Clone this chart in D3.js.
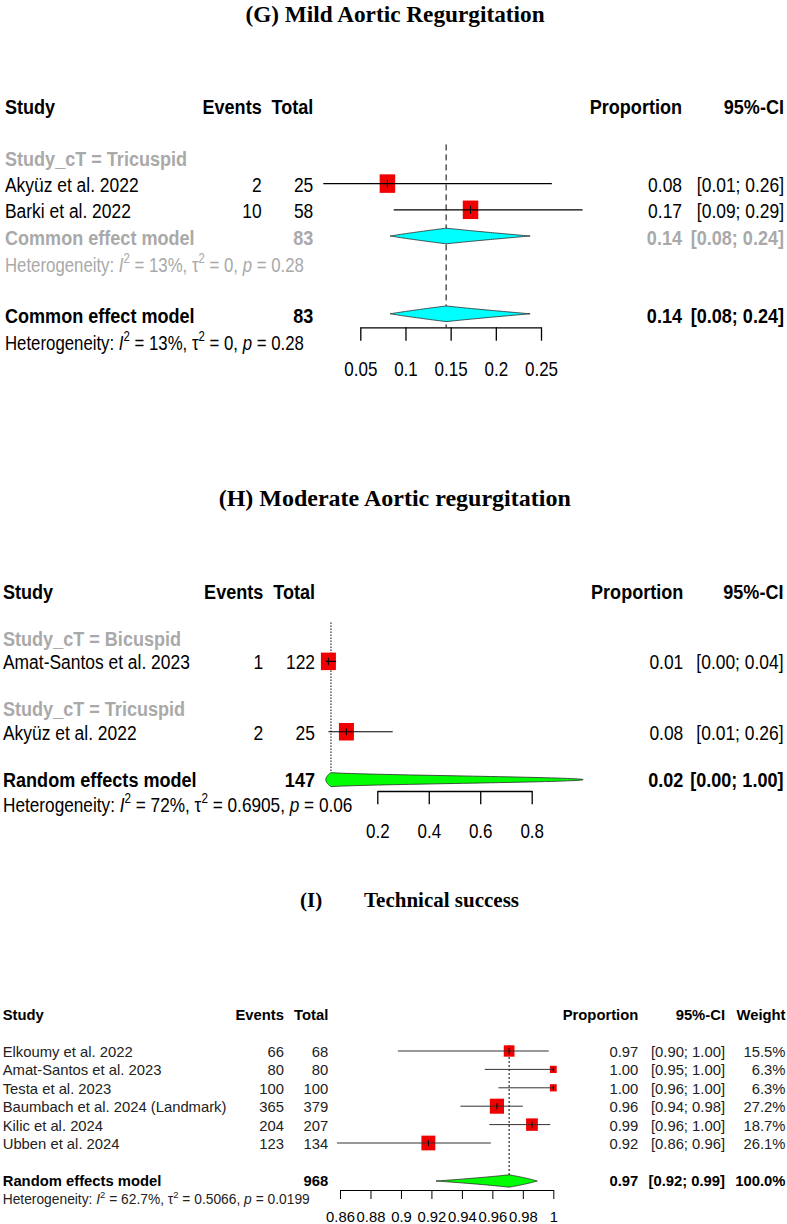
<!DOCTYPE html>
<html><head><meta charset="utf-8">
<script src="https://cdn.jsdelivr.net/npm/d3@7"></script>
<style>body{margin:0;background:#fff} svg{display:block}</style>
</head><body><svg id="c" width="787" height="1224"></svg>
<script>
// ---------- Panel G: Mild Aortic Regurgitation ----------
const gTitle = "(G) Mild Aortic Regurgitation";
const gGroup = "Study_cT = Tricuspid";
const gStudies = ["Akyüz et al. 2022", "Barki et al. 2022"];
const gEvents = [2, 10];
const gTotals = [25, 58];
const gProp = [0.08, 0.172];
const gLower = [0.009, 0.087];
const gUpper = [0.262, 0.296];
const gPropText = ["0.08", "0.17"];
const gCIText = ["[0.01; 0.26]", "[0.09; 0.29]"];
const gPooled = [0.145, 0.083, 0.238];          // estimate, lower, upper
const gPooledText = ["83", "0.14", "[0.08; 0.24]"];
const gHet = ["13%", "0", "0.28"];
const gTicks = [0.05, 0.1, 0.15, 0.2, 0.25];
const gTickLabels = ["0.05", "0.1", "0.15", "0.2", "0.25"];

// ---------- Panel H: Moderate Aortic regurgitation ----------
const hTitle = "(H) Moderate Aortic regurgitation";
const hGroups = ["Study_cT = Bicuspid", "Study_cT = Tricuspid"];
const hStudies = ["Amat-Santos et al. 2023", "Akyüz et al. 2022"];
const hEvents = [1, 2];
const hTotals = [122, 25];
const hProp = [0.01, 0.08];
const hLower = [0.0, 0.01];
const hUpper = [0.04, 0.26];
const hPropText = ["0.01", "0.08"];
const hCIText = ["[0.00; 0.04]", "[0.01; 0.26]"];
const hPooled = [0.02, 0.0, 1.0];
const hPooledText = ["147", "0.02", "[0.00; 1.00]"];
const hHet = ["72%", "0.6905", "0.06"];
const hTicks = [0.2, 0.4, 0.6, 0.8];
const hTickLabels = ["0.2", "0.4", "0.6", "0.8"];

// ---------- Panel I: Technical success ----------
const iTitleParts = ["(I)", "Technical success"];
const iStudies = ["Elkoumy et al. 2022", "Amat-Santos et al. 2023", "Testa et al. 2023",
  "Baumbach et al. 2024 (Landmark)", "Kilic et al. 2024", "Ubben et al. 2024"];
const iEvents = [66, 80, 100, 365, 204, 123];
const iTotals = [68, 80, 100, 379, 207, 134];
const iProp = [0.971, 1.0, 1.0, 0.963, 0.986, 0.918];
const iLower = [0.898, 0.955, 0.964, 0.939, 0.958, 0.858];
const iUpper = [0.997, 1.0, 1.0, 0.980, 0.998, 0.959];
const iWeight = [15.5, 6.3, 6.3, 27.2, 18.7, 26.1];
const iPropText = ["0.97", "1.00", "1.00", "0.96", "0.99", "0.92"];
const iCIText = ["[0.90; 1.00]", "[0.95; 1.00]", "[0.96; 1.00]", "[0.94; 0.98]", "[0.96; 1.00]", "[0.86; 0.96]"];
const iWeightText = ["15.5%", "6.3%", "6.3%", "27.2%", "18.7%", "26.1%"];
const iPooled = [0.971, 0.923, 0.9895];
const iPooledText = ["968", "0.97", "[0.92; 0.99]", "100.0%"];
const iHet = ["62.7%", "0.5066", "0.0199"];
const iTicks = [0.86, 0.88, 0.9, 0.92, 0.94, 0.96, 0.98, 1];
const iTickLabels = ["0.86", "0.88", "0.9", "0.92", "0.94", "0.96", "0.98", "1"];

// ---------- helpers ----------
const SANS = "'Liberation Sans', Arial, Helvetica, sans-serif";
const SERIF = "'Liberation Serif', 'Times New Roman', serif";
const GRAY = "#a9a9a9";
const svg = d3.select("#c");

function label(g, x, y, str, o = {}) {
  return g.append("text")
    .attr("transform", `translate(${x},${y}) scale(${o.sx || 1},1)`)
    .attr("text-anchor", o.anchor || "start")
    .attr("font-family", o.family || SANS)
    .attr("font-size", o.size)
    .attr("font-weight", o.bold ? "bold" : "normal")
    .attr("fill", o.color || "#000")
    .text(str);
}

function hetero(g, x, y, vals, o) {
  const t = g.append("text")
    .attr("transform", `translate(${x},${y}) scale(${o.sx || 1},1)`)
    .attr("font-family", SANS).attr("font-size", o.size)
    .attr("fill", o.color || "#000");
  const up = o.size * 0.42;
  const sup = (s) => t.append("tspan").attr("font-size", o.size * 0.68).attr("dy", -up).text(s);
  const norm = (s, dy) => t.append("tspan").attr("dy", dy || 0).text(s);
  norm("Heterogeneity: ");
  t.append("tspan").attr("font-style", "italic").text("I");
  sup("2");
  norm(` = ${vals[0]}, `, up);
  norm("\u03c4");
  sup("2");
  norm(` = ${vals[1]}, `, up);
  t.append("tspan").attr("font-style", "italic").text("p");
  norm(` = ${vals[2]}`);
}

// back-transformed (arcsine) diamond, like meta's pooled proportion diamond
function diamond(g, x, est, lo, hi, yc, hh, fill) {
  const as = v => Math.asin(Math.sqrt(Math.max(0, Math.min(1, v))));
  const inv = t => Math.pow(Math.sin(t), 2);
  const n = 40, top = [], bot = [];
  const a0 = as(lo), a1 = as(est), a2 = as(hi);
  for (let i = 0; i <= n; i++) {
    const t = a0 + (a1 - a0) * i / n;
    const h = a1 === a0 ? hh : hh * (t - a0) / (a1 - a0);
    top.push([x(inv(t)), yc - h]); bot.push([x(inv(t)), yc + h]);
  }
  for (let i = 1; i <= n; i++) {
    const t = a1 + (a2 - a1) * i / n;
    const h = hh * (1 - (t - a1) / (a2 - a1));
    top.push([x(inv(t)), yc - h]); bot.push([x(inv(t)), yc + h]);
  }
  const pts = top.concat(bot.reverse());
  g.append("path").attr("d", d3.line()(pts) + "Z")
    .attr("fill", fill).attr("stroke", "#2a2a2a").attr("stroke-width", 0.8);
}

function study(g, x, yc, p, lo, hi, w, h, o) {
  g.append("rect").attr("x", x(p) - w / 2).attr("y", yc - h / 2).attr("width", w).attr("height", h)
    .attr("fill", "#f00000");
  g.append("line").attr("x1", x(lo)).attr("x2", x(hi)).attr("y1", yc).attr("y2", yc)
    .attr("stroke", o.ci || "#000").attr("stroke-width", o.sw || 1.2);
  const c = Math.min(o.cross || 7, h * 0.6);
  g.append("line").attr("x1", x(p)).attr("x2", x(p)).attr("y1", yc - c / 2).attr("y2", yc + c / 2)
    .attr("stroke", "#000").attr("stroke-width", 1);
}

function drawAxis(g, x, y, ticks, labels, tickLen, base, fs, sx, sw) {
  const ax = d3.axisBottom(x).tickValues(ticks).tickFormat((d, i) => labels[i])
    .tickSize(tickLen).tickSizeOuter(0);
  const a = g.append("g").attr("transform", `translate(0,${y})`).call(ax);
  a.select(".domain").attr("stroke", "#000").attr("stroke-width", sw);
  a.selectAll(".tick line").attr("stroke", "#000").attr("stroke-width", sw);
  a.selectAll(".tick text").attr("y", base - y).attr("dy", 0)
    .attr("font-size", fs).attr("font-family", SANS).attr("fill", "#000")
    .attr("transform", `scale(${sx},1)`);
}

// ================= Panel G =================
{
  const G = svg.append("g");
  const FS = 21, SX = 0.83, BX = 0.86, OFF = 8.5;
  const row = d3.scaleLinear().domain([0, 9]).range([105, 340.8]);
  const x = d3.scaleLinear().domain([0.05, 0.25]).range([360.3, 541]);
  const cS = 5, cE = 261.7, cT = 313.3, cP = 682, cC = 784;

  label(G, 395, 22, gTitle, { size: 24, bold: 1, family: SERIF, anchor: "middle", sx: 0.97 });

  label(G, cS, row(0) + OFF, "Study", { size: FS, bold: 1, sx: BX });
  label(G, cE, row(0) + OFF, "Events", { size: FS, bold: 1, sx: BX, anchor: "end" });
  label(G, cT, row(0) + OFF, "Total", { size: FS, bold: 1, sx: BX, anchor: "end" });
  label(G, cP, row(0) + OFF, "Proportion", { size: FS, bold: 1, sx: BX, anchor: "end" });
  label(G, cC, row(0) + OFF, "95%-CI", { size: FS, bold: 1, sx: BX, anchor: "end" });

  // reference line
  G.append("line").attr("x1", x(gPooled[0])).attr("x2", x(gPooled[0]))
    .attr("y1", row(2) - 13).attr("y2", 327.3)
    .attr("stroke", "#000").attr("stroke-width", 1).attr("stroke-dasharray", "6,4");

  label(G, cS, row(2) + OFF, gGroup, { size: FS, bold: 1, sx: BX, color: GRAY });
  gStudies.forEach((s, i) => {
    const r = row(3 + i);
    label(G, cS, r + OFF, s, { size: FS, sx: SX });
    label(G, cE, r + OFF, gEvents[i], { size: FS, sx: SX, anchor: "end" });
    label(G, cT, r + OFF, gTotals[i], { size: FS, sx: SX, anchor: "end" });
    label(G, cP, r + OFF, gPropText[i], { size: FS, sx: SX, anchor: "end" });
    label(G, cC, r + OFF, gCIText[i], { size: FS, sx: SX, anchor: "end" });
    study(G, x, r, gProp[i], gLower[i], gUpper[i], 15.5, 18.5, { sw: 1.3, cross: 8 });
  });
  // subgroup summary
  const rs = row(5);
  label(G, cS, rs + OFF, "Common effect model", { size: FS, bold: 1, sx: BX, color: GRAY });
  label(G, cT, rs + OFF, gPooledText[0], { size: FS, bold: 1, sx: BX, color: GRAY, anchor: "end" });
  label(G, cP, rs + OFF, gPooledText[1], { size: FS, bold: 1, sx: BX, color: GRAY, anchor: "end" });
  label(G, cC, rs + OFF, gPooledText[2], { size: FS, bold: 1, sx: BX, color: GRAY, anchor: "end" });
  diamond(G, x, gPooled[0], gPooled[1], gPooled[2], rs, 7.8, "#00ffff");
  hetero(G, cS, row(6) + OFF + 1, gHet, { size: FS, sx: 0.8, color: GRAY });
  // overall
  const ro = row(8);
  label(G, cS, ro + OFF, "Common effect model", { size: FS, bold: 1, sx: BX });
  label(G, cT, ro + OFF, gPooledText[0], { size: FS, bold: 1, sx: BX, anchor: "end" });
  label(G, cP, ro + OFF, gPooledText[1], { size: FS, bold: 1, sx: BX, anchor: "end" });
  label(G, cC, ro + OFF, gPooledText[2], { size: FS, bold: 1, sx: BX, anchor: "end" });
  diamond(G, x, gPooled[0], gPooled[1], gPooled[2], ro - 0.8, 7.8, "#00ffff");
  hetero(G, cS, row(9) + OFF + 0.5, gHet, { size: FS, sx: 0.8 });

  drawAxis(G, x, 327.3, gTicks, gTickLabels, 13.4, 376, 20, 0.85, 1.3);
}

// ================= Panel H =================
{
  const H = svg.append("g");
  const FS = 21, SX = 0.83, BX = 0.86, OFF = 8;
  const row = d3.scaleLinear().domain([0, 9]).range([591, 802.1]);
  const x = d3.scaleLinear().domain([0.2, 0.8]).range([377.3, 531.7]);
  const cS = 3, cE = 263.3, cT = 315, cP = 683.3, cC = 783.5;

  label(H, 394.7, 505.5, hTitle, { size: 24, bold: 1, family: SERIF, anchor: "middle" });

  label(H, cS, row(0) + OFF, "Study", { size: FS, bold: 1, sx: BX });
  label(H, cE, row(0) + OFF, "Events", { size: FS, bold: 1, sx: BX, anchor: "end" });
  label(H, cT, row(0) + OFF, "Total", { size: FS, bold: 1, sx: BX, anchor: "end" });
  label(H, cP, row(0) + OFF, "Proportion", { size: FS, bold: 1, sx: BX, anchor: "end" });
  label(H, cC, row(0) + OFF, "95%-CI", { size: FS, bold: 1, sx: BX, anchor: "end" });

  H.append("line").attr("x1", x(hPooled[0])).attr("x2", x(hPooled[0]))
    .attr("y1", row(1) + 8).attr("y2", row(8) - 6)
    .attr("stroke", "#000").attr("stroke-width", 1).attr("stroke-dasharray", "1.5,1.5");

  hStudies.forEach((s, i) => {
    const rg = row(2 + 3 * i), r = row(3 + 3 * i);
    label(H, cS, rg + OFF, hGroups[i], { size: FS, bold: 1, sx: BX, color: GRAY });
    label(H, cS, r + OFF, s, { size: FS, sx: SX });
    label(H, cE, r + OFF, hEvents[i], { size: FS, sx: SX, anchor: "end" });
    label(H, cT, r + OFF, hTotals[i], { size: FS, sx: SX, anchor: "end" });
    label(H, cP, r + OFF, hPropText[i], { size: FS, sx: SX, anchor: "end" });
    label(H, cC, r + OFF, hCIText[i], { size: FS, sx: SX, anchor: "end" });
    study(H, x, r, hProp[i], hLower[i], hUpper[i], 15, 17.5, { sw: 1.2, cross: 7 });
  });
  const ro = row(8);
  label(H, cS, ro + OFF, "Random effects model", { size: FS, bold: 1, sx: BX });
  label(H, cT, ro + OFF, hPooledText[0], { size: FS, bold: 1, sx: BX, anchor: "end" });
  label(H, cP, ro + OFF, hPooledText[1], { size: FS, bold: 1, sx: BX, anchor: "end" });
  label(H, cC, ro + OFF, hPooledText[2], { size: FS, bold: 1, sx: BX, anchor: "end" });
  diamond(H, x, hPooled[0], hPooled[1], hPooled[2], ro + 1, 7, "#00ff00");
  hetero(H, cS, row(9) + OFF + 1.5, hHet, { size: FS, sx: 0.82 });

  drawAxis(H, x, 791, hTicks, hTickLabels, 13.3, 838, 20, 0.85, 1.3);
}

// ================= Panel I =================
{
  const I = svg.append("g");
  const FS = 14.8, OFF = 6;
  const row = d3.scaleLinear().domain([0, 10]).range([1014.2, 1198.2]);
  const x = d3.scaleLinear().domain([0.86, 1]).range([340, 553.3]);
  const cS = 2.7, cE = 284, cT = 328.3, cP = 638.3, cC = 725, cW = 785.5;

  label(I, 300, 907, iTitleParts[0], { size: 21, bold: 1, family: SERIF });
  label(I, 364, 907, iTitleParts[1], { size: 21, bold: 1, family: SERIF });

  label(I, cS, row(0) + OFF, "Study", { size: FS, bold: 1 });
  label(I, cE, row(0) + OFF, "Events", { size: FS, bold: 1, anchor: "end" });
  label(I, cT, row(0) + OFF, "Total", { size: FS, bold: 1, anchor: "end" });
  label(I, cP, row(0) + OFF, "Proportion", { size: FS, bold: 1, anchor: "end" });
  label(I, cC, row(0) + OFF, "95%-CI", { size: FS, bold: 1, anchor: "end" });
  label(I, cW, row(0) + OFF, "Weight", { size: FS, bold: 1, anchor: "end" });

  I.append("line").attr("x1", x(iPooled[0])).attr("x2", x(iPooled[0]))
    .attr("y1", row(2) - 6).attr("y2", row(9) - 4)
    .attr("stroke", "#000").attr("stroke-width", 1).attr("stroke-dasharray", "2,2");

  iStudies.forEach((s, i) => {
    const r = row(2 + i);
    label(I, cS, r + OFF, s, { size: FS, color: "#222" });
    label(I, cE, r + OFF, iEvents[i], { size: FS, color: "#222", anchor: "end" });
    label(I, cT, r + OFF, iTotals[i], { size: FS, color: "#222", anchor: "end" });
    label(I, cP, r + OFF, iPropText[i], { size: FS, color: "#222", anchor: "end" });
    label(I, cC, r + OFF, iCIText[i], { size: FS, color: "#222", anchor: "end" });
    label(I, cW, r + OFF, iWeightText[i], { size: FS, color: "#222", anchor: "end" });
    const w = 2.72 * Math.sqrt(iWeight[i]);
    study(I, x, r, iProp[i], iLower[i], iUpper[i], w, w * 1.06, { sw: 1, ci: "#333", cross: 6 });
  });
  const ro = row(9);
  label(I, cS, ro + OFF, "Random effects model", { size: FS, bold: 1 });
  label(I, cT, ro + OFF, iPooledText[0], { size: FS, bold: 1, anchor: "end" });
  label(I, cP, ro + OFF, iPooledText[1], { size: FS, bold: 1, anchor: "end" });
  label(I, cC, ro + OFF, iPooledText[2], { size: FS, bold: 1, anchor: "end" });
  label(I, cW, ro + OFF, iPooledText[3], { size: FS, bold: 1, anchor: "end" });
  diamond(I, x, iPooled[0], iPooled[1], iPooled[2], ro + 1.2, 6.2, "#00ff00");
  hetero(I, cS, row(10) + OFF, iHet, { size: 13.8, color: "#222" });

  drawAxis(I, x, 1190, iTicks, iTickLabels, 9, 1221.5, 14.8, 1, 1);
}
</script></body></html>
